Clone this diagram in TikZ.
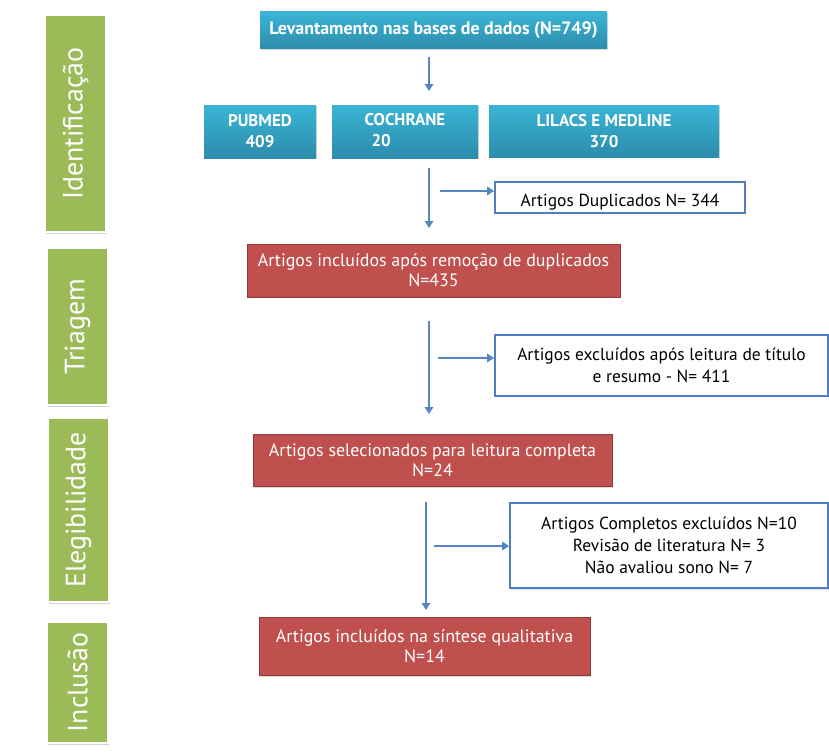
\documentclass[tikz,border=0pt]{standalone}
\usepackage{fontspec}
\setmainfont{PT Sans}
\usetikzlibrary{arrows.meta,shadows}
\definecolor{phasegreen}{HTML}{9BBB59}
\definecolor{bluetop}{HTML}{3AB5D6}
\definecolor{bluebot}{HTML}{2C8CAB}
\definecolor{redfill}{HTML}{C0504D}
\definecolor{redline}{HTML}{8E3A38}
\definecolor{arrowblue}{HTML}{5585C2}
\definecolor{boxblue}{HTML}{4F7FC0}
\tikzset{
  phase/.style={fill=phasegreen, draw=white, line width=2.5pt, drop shadow={shadow xshift=1pt, shadow yshift=-2pt, opacity=0.35},
    text=white, font=\fontsize{28}{30}\selectfont, rotate=90, inner sep=0pt},
  bluebox/.style={top color=bluetop, bottom color=bluebot, draw=none, text=white, font=\bfseries\fontsize{17}{21}\selectfont,
    drop shadow={shadow xshift=1pt, shadow yshift=-1.5pt, opacity=0.3}, align=center, inner sep=0pt},
  redbox/.style={fill=redfill, draw=redline, line width=1pt, text=white, font=\fontsize{18}{20}\selectfont,
    drop shadow={shadow xshift=1pt, shadow yshift=-1.5pt, opacity=0.3}, align=center, inner sep=0pt, anchor=center},
  exbox/.style={fill=white, draw=boxblue, line width=1.8pt, text=black, font=\fontsize{17.5}{22}\selectfont,
    drop shadow={shadow xshift=1pt, shadow yshift=-1.5pt, opacity=0.25}, align=center, inner sep=0pt},
  flow/.style={draw=arrowblue, line width=2.4pt, -{Triangle[width=8.5pt,length=7pt]}}
}
\begin{document}
\begin{tikzpicture}[x=1bp,y=-1bp]
\useasboundingbox (0,0) rectangle (829,754);
% phase labels
\node[phase, minimum width=217bp, minimum height=61bp] (id) at (75.5,123.5) {Identificação};
\node[phase, minimum width=157bp, minimum height=61bp] (tri) at (77.5,326.5) {Triagem};
\node[phase, minimum width=184bp, minimum height=61bp] (ele) at (78.5,510) {Elegibilidade};
\node[phase, minimum width=121bp, minimum height=61bp] (inc) at (77.5,682.5) {Inclusão};
% identification boxes
\node[bluebox, minimum width=347bp, minimum height=37bp] (lev) at (433.5,30.5) {\fontsize{18}{21}\selectfont Levantamento nas bases de dados (N=749)};
\node[bluebox, minimum width=112bp, minimum height=53bp] (pub) at (260,131.5) {PUBMED\\409};
\node[bluebox, minimum width=146bp, minimum height=53bp] (coc) at (405,131.5) {\begin{tabular}{@{}l@{}}COCHRANE\\\hspace{0.4em}20\end{tabular}};
\node[bluebox, minimum width=230bp, minimum height=52bp] (lil) at (604,131) {LILACS E MEDLINE\\370};
\node[exbox, minimum width=250bp, minimum height=31bp, text depth=0pt] (dup) at (620,197.5) {\raisebox{-5bp}{Artigos Duplicados N= 344}};
% main flow
\node[redbox, minimum width=373bp, minimum height=53bp] (r1) at (433.5,270.5) {Artigos incluídos após remoção de duplicados\\N=435};
\node[exbox, minimum width=333bp, minimum height=61bp] (ex2) at (661.5,365.5) {Artigos excluídos após leitura de título\\e resumo - N= 411};
\node[redbox, minimum width=359bp, minimum height=52bp] (r2) at (432.5,460) {Artigos selecionados para leitura completa\\N=24};
\node[exbox, minimum width=318bp, minimum height=85bp] (ex3) at (669,545.5) {Artigos Completos excluídos N=10\\Revisão de literatura N= 3\\Não avaliou sono N= 7};
\node[redbox, minimum width=331bp, minimum height=58bp] (r3) at (424.5,646) {Artigos incluídos na síntese qualitativa\\N=14};
% arrows
\coordinate (a1s) at (429,57);  \coordinate (a1e) at (429,91);
\coordinate (a2s) at (429,168); \coordinate (a2e) at (429,228);
\coordinate (b2s) at (440,191);
\coordinate (a3s) at (429,321); \coordinate (a3e) at (429,414);
\coordinate (b3s) at (438,358);
\coordinate (a4s) at (426,502); \coordinate (a4e) at (426,610);
\coordinate (b4s) at (434,546);
\draw[flow] (a1s) -- (a1e);
\draw[flow] (a2s) -- (a2e);
\draw[flow] (b2s) -- (b2s -| dup.west);
\draw[flow] (a3s) -- (a3e);
\draw[flow] (b3s) -- (b3s -| ex2.west);
\draw[flow] (a4s) -- (a4e);
\draw[flow] (b4s) -- (b4s -| ex3.west);
\end{tikzpicture}
\end{document}
